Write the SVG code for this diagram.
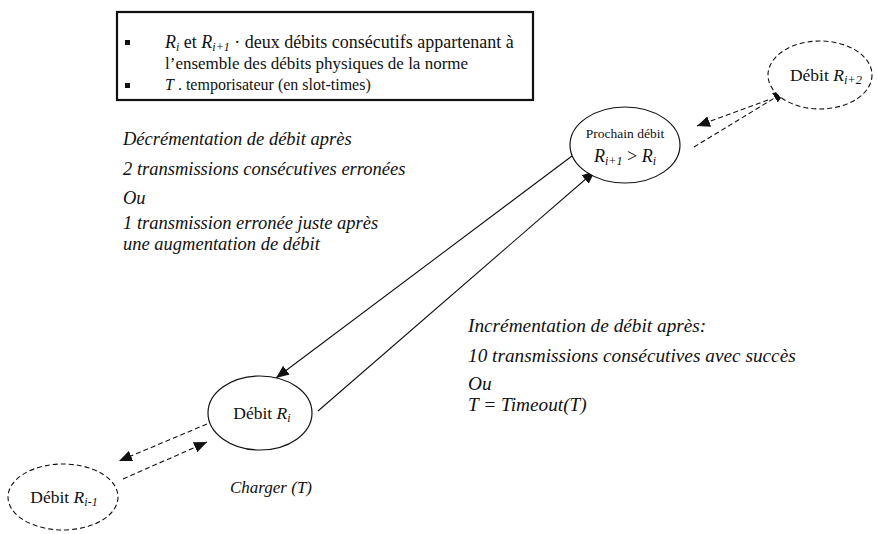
<svg xmlns="http://www.w3.org/2000/svg" width="878" height="534" viewBox="0 0 878 534">
<style>
text{font-family:"Liberation Serif","Times New Roman",serif;fill:#111}
.it{font-style:italic}
.n{fill:#fff;stroke:#111;stroke-width:1.2}
.d{fill:#fff;stroke:#111;stroke-width:1.1;stroke-dasharray:5 3}
.c{stroke:#111;stroke-width:1.1;fill:none}
.cd{stroke:#111;stroke-width:1.1;fill:none;stroke-dasharray:5 3}
</style>
<defs>
<marker id="ah" viewBox="0 0 13 11" refX="13" refY="5.5" markerWidth="13" markerHeight="11" markerUnits="userSpaceOnUse" orient="auto">
<path d="M0,0 L13,5.5 L0,11 Z" fill="#111"/>
</marker>
</defs>
<rect width="878" height="534" fill="#fff"/>
<g id="legend">
<rect x="117" y="12" width="416" height="88" fill="#fff" stroke="#111" stroke-width="2.2"/>
<rect x="125" y="40" width="5" height="5" fill="#111"/>
<rect x="125" y="83" width="5" height="5" fill="#111"/>
<text x="165" y="48" font-size="18"><tspan class="it">R</tspan><tspan class="it" font-size="12" dy="3">i</tspan><tspan dy="-3"> et </tspan><tspan class="it">R</tspan><tspan class="it" font-size="12" dy="3">i+1</tspan><tspan dy="-3"> · deux débits consécutifs appartenant à</tspan></text>
<text x="165" y="69" font-size="17">l’ensemble des débits physiques de la norme</text>
<text x="165" y="90" font-size="16"><tspan class="it">T</tspan> . temporisateur (en slot-times)</text>
</g>
<g id="label-decr">
<text x="123" y="145" class="it" font-size="18.5">Décrémentation de débit après</text>
<text x="123" y="175" class="it" font-size="18.5">2 transmissions consécutives erronées</text>
<text x="123" y="204" class="it" font-size="18.5">Ou</text>
<text x="123" y="229" class="it" font-size="18.5">1 transmission erronée juste après</text>
<text x="123" y="250" class="it" font-size="18.5">une augmentation de débit</text>
</g>
<g id="label-incr">
<text x="468" y="332" class="it" font-size="19.3">Incrémentation de débit après:</text>
<text x="468" y="362" class="it" font-size="19.3">10 transmissions consécutives avec succès</text>
<text x="468" y="390" class="it" font-size="19.3">Ou</text>
<text x="468" y="411" class="it" font-size="19.3">T = Timeout(T)</text>
</g>
<g id="label-charger">
<text x="230" y="493" class="it" font-size="17">Charger (T)</text>
</g>
<g id="connectors">
<line class="c" x1="572" y1="156" x2="276" y2="378" marker-end="url(#ah)"/>
<line class="c" x1="318" y1="411" x2="595" y2="171" marker-end="url(#ah)"/>
<line class="cd" x1="768" y1="100" x2="697" y2="126" marker-end="url(#ah)"/>
<line class="cd" x1="694" y1="147" x2="786" y2="91" marker-end="url(#ah)"/>
<line class="cd" x1="207" y1="424" x2="119" y2="461" marker-end="url(#ah)"/>
<line class="cd" x1="123" y1="479" x2="207" y2="442" marker-end="url(#ah)"/>
</g>
<g id="node-prochain">
<ellipse class="n" cx="625" cy="145" rx="55" ry="38"/>
<text x="625" y="138" font-size="13.5" text-anchor="middle">Prochain débit</text>
<text x="625" y="162" font-size="18" text-anchor="middle"><tspan class="it">R</tspan><tspan class="it" font-size="12" dy="3">i+1</tspan><tspan dy="-3"> &gt; </tspan><tspan class="it">R</tspan><tspan class="it" font-size="12" dy="3">i</tspan></text>
</g>
<g id="node-ri2">
<ellipse class="d" cx="820" cy="75" rx="52" ry="34"/>
<text x="826" y="81" font-size="17.5" text-anchor="middle">Débit <tspan class="it">R</tspan><tspan class="it" font-size="12.5" dy="3">i+2</tspan></text>
</g>
<g id="node-ri">
<ellipse class="n" cx="260" cy="413" rx="52" ry="37"/>
<text x="262" y="419" font-size="17.5" text-anchor="middle">Débit <tspan class="it">R</tspan><tspan class="it" font-size="12" dy="3">i</tspan></text>
</g>
<g id="node-ri1">
<ellipse class="d" cx="63" cy="497" rx="55" ry="33"/>
<text x="64" y="503" font-size="17.5" text-anchor="middle">Débit <tspan class="it">R</tspan><tspan class="it" font-size="12" dy="3">i-1</tspan></text>
</g>
</svg>
